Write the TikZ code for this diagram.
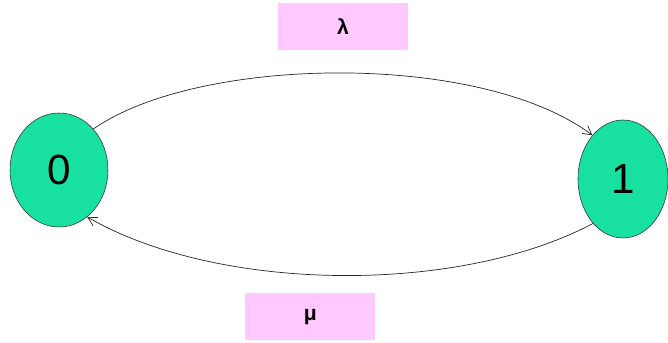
\documentclass[tikz,border=0pt]{standalone}
\usepackage{fontspec}
\setmainfont{Liberation Sans}
\usetikzlibrary{arrows.meta,positioning,shapes.geometric,calc}
\definecolor{StateGreen}{RGB}{24,224,160}
\definecolor{SoftPink}{RGB}{255,200,255}
\tikzset{
  state/.style={ellipse,draw=black!80,fill=StateGreen,thin,inner sep=0pt,
    font=\fontsize{30}{34}\selectfont},
  rate/.style={fill=SoftPink,minimum width=3.25cm,minimum height=1.18cm,
    font=\bfseries\fontsize{15}{17}\selectfont},
  arrow/.style={-{Straight Barb[length=2.2mm,width=2.4mm]},line width=0.5pt,black!85}
}

\begin{document}
\begin{tikzpicture}
  \useasboundingbox (0,0) rectangle (16.7,8.575);

  \node[state,minimum width=2.45cm,minimum height=2.85cm] (s0) at (1.475,4.325) {0};
  \node[state,minimum width=2.25cm,minimum height=2.95cm] (s1) at (15.575,4.1) {1};

  \node[rate] (lambda) at (8.575,7.91) {λ};
  \node[rate] (mu) at (7.76,0.66) {μ};

  \draw[arrow] (s0.50) .. controls +(35:3.2) and +(143:3.5) .. (s1.125);
  \draw[arrow] (s1.236) .. controls +(208:3.8) and +(-30:3.8) .. (s0.301);
\end{tikzpicture}
\end{document}
